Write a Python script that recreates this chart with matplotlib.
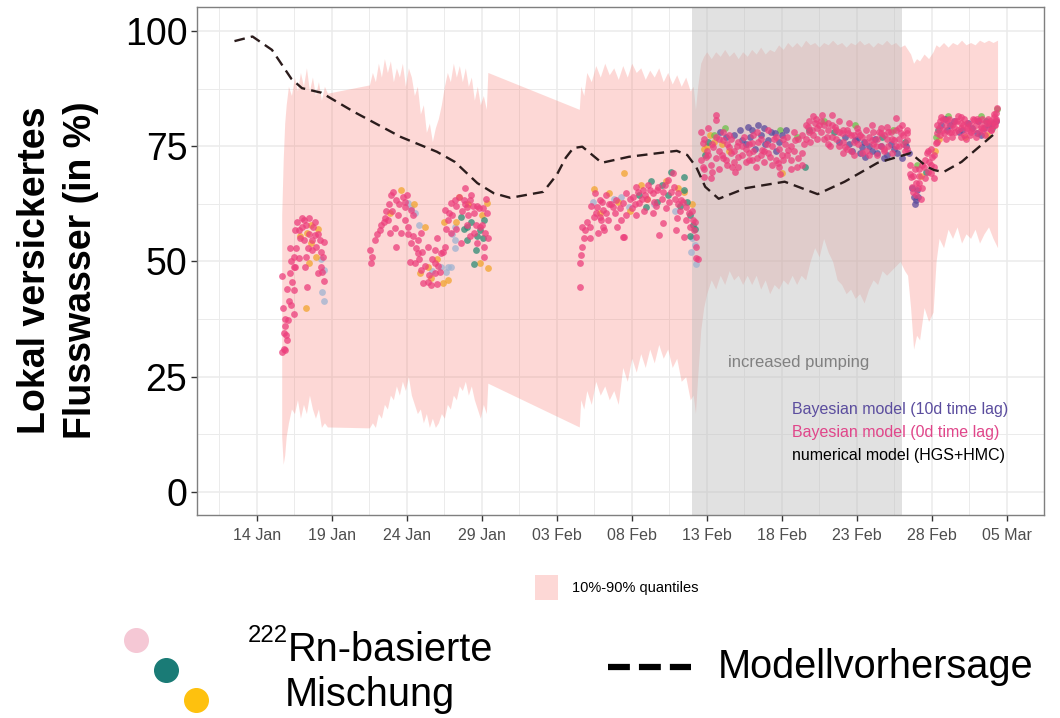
import matplotlib
matplotlib.use("Agg")
import matplotlib.pyplot as plt
from matplotlib import font_manager
from matplotlib.lines import Line2D
from matplotlib.patches import Rectangle

# x values are day-of-year 2023 (1 = 01 Jan)
tick_days = [14, 19, 24, 29, 34, 39, 44, 49, 54, 59, 64]
tick_labels = ["14 Jan", "19 Jan", "24 Jan", "29 Jan", "03 Feb", "08 Feb",
               "13 Feb", "18 Feb", "23 Feb", "28 Feb", "05 Mar"]
pumping_start, pumping_end = 43.05, 57.05

# 10%-90% quantile band (day, lower, upper)
band_day = [15.65, 15.75, 15.85, 15.95, 16.1, 16.3, 16.5, 16.7, 16.9, 17.1, 17.3, 17.5,
            17.7, 17.9, 18.1, 18.3, 18.5, 18.7,
            21.5, 21.7, 21.9, 22.1, 22.3, 22.5, 22.7, 22.9, 23.1, 23.3, 23.5, 23.7, 23.9,
            24.1, 24.3, 24.5, 24.7, 24.9, 25.1, 25.3, 25.5, 25.7, 25.9, 26.1, 26.3, 26.5,
            26.7, 26.9, 27.1, 27.3, 27.5, 27.7, 27.9, 28.1, 28.3, 28.5, 28.7, 28.9, 29.1,
            29.3, 29.4,
            35.5, 35.6, 35.8, 36.0, 36.3, 36.6, 36.9, 37.2, 37.5, 37.8, 38.1, 38.4, 38.7,
            39.0, 39.3, 39.6, 39.9, 40.2, 40.5, 40.8, 41.1, 41.4, 41.7, 42.0, 42.3, 42.6,
            42.9, 43.1, 43.25,
            43.4, 43.6, 43.8, 44.0, 44.3, 44.6, 44.9, 45.2, 45.5, 45.8, 46.1, 46.4, 46.7,
            47.0, 47.3, 47.6, 47.9, 48.2, 48.5, 48.8, 49.1, 49.4, 49.7, 50.0, 50.3, 50.6,
            50.9, 51.2, 51.5, 51.8, 52.1, 52.4, 52.7, 53.0, 53.3, 53.6, 53.9, 54.2, 54.5,
            54.8, 55.1, 55.4, 55.7, 56.0, 56.3, 56.6, 56.9, 57.2, 57.4,
            57.6, 57.8, 58.0, 58.2, 58.5, 58.8, 59.1, 59.3, 59.5, 59.8, 60.1, 60.4, 60.7,
            61.0, 61.3, 61.6, 61.9, 62.2, 62.5, 62.8, 63.1, 63.4]
band_low = [12, 6, 8, 12, 15, 18, 17, 20, 16, 19, 17, 21, 18, 16, 18, 14, 15, 14.1,
            13.9, 15, 14, 17, 16, 19, 18, 21, 20, 23, 21, 24, 22, 25, 21, 19, 17, 18, 15,
            17, 14, 16, 14, 15, 17, 16, 19, 18, 21, 20, 23, 22, 24, 21, 23, 20, 18, 16, 19,
            17, 23.6,
            14.1, 20, 18, 22, 19, 24, 21, 23, 20, 22, 19, 27, 24, 29, 26, 30, 27, 31, 28,
            32, 29, 31, 27, 29, 24, 25, 20, 21, 17,
            25, 35, 40, 43, 46, 44, 47, 45, 48, 46, 47, 45, 47, 45, 47, 44, 46, 43, 45, 44,
            46, 45, 47, 45, 47, 46, 50, 53, 51, 55, 52, 50, 46, 45, 43, 44, 42, 43, 41, 44,
            46, 45, 48, 47, 48, 49, 50, 48, 47,
            40, 31, 34, 33, 40, 37, 39, 50, 55, 53, 57, 55, 57.5, 54, 56, 55, 57, 54, 56,
            57.5, 55, 53]
band_high = [60, 72, 80, 84, 88, 86, 90, 87, 91, 88, 92, 87, 90, 86, 89, 85, 88, 86.5,
             88.3, 91, 89, 93, 90, 94, 91, 93.5, 89, 92, 90, 93, 88, 92, 90, 86, 88, 82,
             84, 78, 80, 76, 79, 81, 84, 88, 91, 89, 93, 90, 92.5, 89, 92, 88, 90, 85, 88,
             84, 86, 83, 91,
             83, 88, 86, 91, 89, 92.5, 90, 93, 90.5, 92, 89.5, 92.5, 90, 93, 91, 92, 89.5,
             91.5, 90, 92, 89, 91, 88.5, 90.5, 88, 90, 87, 88, 83,
             88, 93, 94.5, 95.5, 94, 95.5, 94.5, 96, 94.5, 95.5, 94, 95.5, 94.5, 96, 95,
             96.5, 95, 96, 95.5, 97, 96, 97.5, 96.5, 97.5, 96.5, 98, 97, 97.5, 96.5, 97.5,
             97, 98, 97, 97.5, 96.5, 97.5, 97, 98, 97, 97.5, 96.5, 97.5, 97, 98, 97, 97.5,
             96.5, 97, 96,
             95, 93, 94, 93.5, 95, 94, 95.5, 97, 96.5, 97.5, 96.5, 97.5, 97, 98, 97, 97.5,
             97, 98, 97.5, 98, 97.5, 98]

# numerical model (HGS+HMC)
model_day = [12.5, 13.7, 15.0, 16.3, 17.0, 18.3, 20.5, 23.6, 26.0, 27.2, 28.7, 29.8,
             30.9, 33.1, 34.0, 34.6, 35.1, 35.7, 37.0, 38.8, 42.0, 42.7, 43.3, 43.9,
             44.8, 46.6, 49.2, 51.4, 53.2, 55.4, 57.6, 58.7, 59.2, 59.8, 61.0, 63.3]
model_val = [97.8, 98.8, 95.9, 89.6, 87.6, 86.6, 82.4, 77.0, 73.8, 71.6, 67.0, 64.8,
             63.8, 65.1, 68.8, 72.5, 74.6, 74.9, 71.4, 72.7, 74.0, 73.1, 70.5, 66.2,
             63.6, 65.9, 67.3, 64.6, 67.3, 71.4, 73.5, 70.5, 69.8, 69.4, 71.6, 78.0]

# Rn-222 based mixing estimates (day, %)
bayes_0d = [
    # mid January
    (15.66, 30.4), (15.79, 31.0), (15.9, 30.8), (15.92, 34.0), (15.99, 33.0), (15.79, 34.5),
    (15.85, 36.0), (15.9, 37.5), (16.05, 37.3), (15.72, 39.9), (16.12, 41.5), (16.25, 40.6),
    (16.45, 38.6), (16.45, 43.8), (16.32, 45.6), (15.68, 46.9), (16.19, 47.5), (16.45, 48.8),
    (17.23, 48.8), (17.31, 44.5), (18.04, 47.5), (18.35, 47.7), (18.48, 45.8), (16.98, 59.4),
    (16.78, 56.8), (16.52, 56.8), (16.23, 52.9), (16.45, 51.0), (16.78, 50.8), (16.56, 48.8),
    (17.11, 59.0), (17.44, 59.4), (17.77, 57.5), (17.11, 54.7), (17.64, 54.7), (17.89, 55.7),
    (18.22, 54.7), (18.44, 54.2), (17.97, 53.1), (17.25, 51.0), (18.3, 52.0), (18.3, 48.8),
    (16.0, 44.0), (16.3, 50.0), (16.6, 53.0), (16.9, 55.0), (17.0, 57.5), (17.3, 58.0),
    (17.5, 56.0), (17.7, 52.5), (17.9, 58.5), (18.1, 56.0), (18.4, 51.0), (16.7, 58.5),
    (17.4, 53.0),
    # late January
    (21.62, 49.7), (21.55, 52.5), (21.88, 54.7), (22.21, 56.8), (22.54, 59.4), (22.74, 59.0),
    (22.87, 56.2), (23.21, 57.3), (22.94, 64.4), (23.27, 63.3), (23.74, 64.0), (23.87, 61.8),
    (24.26, 61.2), (23.87, 59.0), (24.07, 57.5), (23.6, 56.2), (23.27, 53.1), (24.26, 54.0),
    (24.73, 54.7), (24.93, 56.2), (24.73, 51.8), (25.39, 53.1), (25.85, 52.5), (26.25, 51.8),
    (24.53, 49.7), (24.93, 48.2), (25.85, 49.7), (26.52, 53.1), (26.91, 56.2), (26.72, 59.0),
    (26.52, 61.2), (26.91, 62.7), (27.18, 63.3), (27.84, 63.3), (28.04, 61.8), (28.24, 63.3),
    (28.5, 60.5), (28.5, 56.2), (29.23, 56.2), (28.7, 54.0), (27.58, 54.0), (29.17, 53.1),
    (29.36, 60.5), (28.83, 61.6), (29.17, 51.0), (25.06, 45.3), (25.39, 45.6), (25.59, 44.9),
    (25.99, 45.1), (25.85, 47.5), (26.19, 47.7), (24.2, 49.9), (22.5, 58.5), (23.0, 61.0),
    (23.5, 62.5), (24.0, 64.5), (24.4, 60.0), (27.5, 64.0), (27.9, 66.0), (28.3, 64.5),
    (28.7, 62.0), (29.0, 58.0), (29.3, 63.5), (27.0, 60.0), (26.0, 55.0), (25.0, 52.0),
    (28.0, 58.0), (21.7, 51.0), (22.0, 56.0), (22.3, 58.0), (22.6, 61.0), (22.8, 62.5),
    (23.1, 65.0), (23.4, 60.0), (23.9, 63.0), (24.1, 56.0), (24.4, 55.5), (24.6, 53.0),
    (24.8, 50.5), (25.2, 49.0), (25.5, 47.0), (25.7, 50.5), (26.1, 49.0), (26.4, 52.0),
    (26.6, 57.0), (26.8, 60.5), (27.3, 62.0), (27.7, 61.0), (27.9, 62.5), (28.1, 60.0),
    (28.4, 62.0), (28.6, 58.0), (28.9, 57.5), (29.1, 61.5), (29.4, 55.0), (27.3, 57.0),
    (28.2, 55.5),
    # early February
    (35.52, 44.5), (35.52, 49.7), (35.6, 51.4), (35.66, 53.1), (35.79, 55.1), (35.85, 56.8),
    (36.19, 57.5), (36.45, 59.7), (36.52, 64.9), (36.85, 63.3), (37.11, 61.2), (36.98, 59.0),
    (36.65, 61.8), (36.85, 59.7), (37.31, 60.5), (37.11, 57.5), (36.78, 56.2), (37.18, 56.8),
    (37.77, 61.8), (37.97, 63.3), (38.44, 62.7), (38.64, 64.9), (38.3, 59.0), (38.44, 55.3),
    (39.1, 64.0), (39.3, 66.2), (39.76, 65.5), (40.09, 66.6), (40.42, 64.9), (40.75, 66.2),
    (41.09, 65.1), (41.42, 67.7), (41.81, 66.2), (42.08, 64.9), (42.28, 63.3), (42.61, 61.8),
    (42.81, 60.5), (43.07, 59.0), (43.14, 56.8), (43.27, 55.3), (43.27, 53.1), (43.27, 50.8),
    (42.48, 55.3), (41.95, 56.8), (41.09, 58.4), (40.82, 55.7), (40.42, 60.5), (39.5, 62.7),
    (41.75, 69.2), (38.5, 55.3), (43.4, 50.5), (37.5, 62.5), (39.0, 61.5), (40.0, 63.5),
    (41.5, 63.0), (42.2, 61.0), (35.7, 57.5), (36.0, 58.5), (36.3, 62.0), (36.6, 60.5),
    (37.0, 63.0), (37.4, 59.0), (37.6, 62.5), (37.9, 60.5), (38.2, 61.5), (38.6, 60.0),
    (38.9, 63.5), (39.2, 62.5), (39.4, 65.0), (39.7, 63.5), (39.9, 64.5), (40.2, 65.5),
    (40.5, 63.0), (40.7, 65.5), (41.0, 63.5), (41.2, 66.5), (41.6, 65.0), (41.9, 63.5),
    (42.1, 62.5), (42.4, 63.0), (42.6, 59.0), (42.9, 57.5), (43.0, 61.0), (43.2, 58.5),
    (36.2, 55.0), (37.3, 64.5), (38.0, 57.5), (39.3, 60.0), (41.3, 61.5), (42.0, 59.5),
    (39.8, 61.0), (40.6, 62.0),
    # increased pumping
    (43.73, 75.7), (43.93, 72.7), (43.73, 70.5), (43.8, 68.3), (44.26, 68.1), (44.6, 81.8),
    (44.6, 80.7), (44.4, 74.8), (45.06, 76.4), (45.46, 74.8), (45.26, 72.0), (45.72, 70.5),
    (46.12, 72.7), (47.05, 75.7), (47.71, 74.2), (48.24, 72.7), (48.77, 71.4), (49.43, 74.2),
    (49.89, 76.4), (50.36, 73.5), (50.75, 79.2), (51.22, 80.0), (51.68, 81.8), (52.08, 80.0),
    (52.34, 81.8), (52.54, 79.2), (53.01, 77.9), (53.2, 74.8), (53.4, 77.9), (55.0, 76.4),
    (55.66, 77.9), (56.05, 79.2), (56.52, 76.4), (56.65, 81.2), (56.98, 77.9), (57.38, 76.4),
    (57.38, 77.9), (44.0, 74.0), (44.8, 76.5), (45.5, 77.5), (46.0, 75.0), (46.5, 77.0),
    (47.0, 72.0), (47.4, 76.0), (48.0, 75.5), (48.5, 76.5), (49.0, 73.0), (49.6, 72.0),
    (50.0, 70.5), (50.5, 75.5), (51.0, 78.5), (51.5, 79.5), (52.0, 77.0), (52.8, 80.5),
    (53.5, 80.0), (53.8, 76.0), (54.2, 77.5), (54.6, 74.0), (55.3, 75.0), (55.8, 74.5),
    (56.3, 78.0), (56.8, 75.0), (57.2, 74.0), (44.3, 71.0), (45.9, 69.5), (47.3, 70.5),
    (48.9, 69.0), (49.2, 75.5), (50.9, 76.0), (52.2, 75.0), (53.1, 78.5), (54.0, 79.0),
    (55.5, 78.0), (57.0, 79.5), (46.8, 73.5), (45.0, 73.0), (51.3, 81.0), (55.0, 79.5),
    (56.0, 76.5),
    (43.6, 72.0), (43.6, 78.0), (43.85, 70.0), (43.85, 76.5), (44.1, 73.0), (44.1, 79.0),
    (44.35, 75.5), (44.35, 69.5), (44.6, 77.0), (44.6, 72.5), (44.85, 74.0), (44.85, 70.0),
    (45.1, 78.0), (45.1, 72.5), (45.35, 75.5), (45.35, 71.0), (45.6, 73.5), (45.6, 76.5),
    (45.85, 74.0), (45.85, 71.5), (46.1, 76.0), (46.1, 70.5), (46.35, 73.0), (46.35, 75.0),
    (46.6, 71.5), (46.6, 74.5), (46.85, 75.5), (46.85, 72.0), (47.1, 74.0), (47.1, 77.5),
    (47.35, 72.5), (47.35, 78.0), (47.6, 73.0), (47.6, 76.5), (47.85, 71.5), (47.85, 74.0),
    (48.1, 73.5), (48.1, 78.5), (48.35, 75.0), (48.35, 71.0), (48.6, 72.0), (48.6, 77.0),
    (48.85, 74.5), (48.85, 70.5), (49.1, 76.5), (49.1, 72.0), (49.35, 73.0), (49.35, 77.0),
    (49.6, 75.0), (49.6, 70.0), (49.85, 74.0), (49.85, 78.0), (50.1, 72.5), (50.1, 76.5),
    (50.35, 71.0), (50.35, 77.5), (50.6, 79.5), (50.6, 76.5), (50.85, 80.5), (50.85, 78.0),
    (51.1, 77.5), (51.1, 81.5), (51.35, 79.0), (51.35, 76.5), (51.6, 78.0), (51.6, 80.5),
    (51.85, 76.5), (51.85, 79.5), (52.1, 78.5), (52.1, 75.5), (52.35, 77.0), (52.35, 79.5),
    (52.6, 76.5), (52.6, 78.5), (52.85, 75.0), (52.85, 78.0), (53.1, 76.0), (53.1, 73.5),
    (53.35, 74.5), (53.35, 78.5), (53.6, 77.5), (53.6, 74.0), (53.85, 73.0), (53.85, 77.5),
    (54.1, 75.5), (54.1, 78.0), (54.35, 77.0), (54.35, 73.5), (54.6, 76.0), (54.6, 78.5),
    (54.85, 73.0), (54.85, 77.0), (55.1, 75.5), (55.1, 78.0), (55.35, 76.5), (55.35, 73.0),
    (55.6, 75.0), (55.6, 79.0), (55.85, 77.5), (55.85, 74.0), (56.1, 75.0), (56.1, 78.0),
    (56.35, 76.5), (56.35, 73.5), (56.6, 78.5), (56.6, 75.0), (56.85, 76.5), (56.85, 79.0),
    (57.1, 75.5), (57.1, 77.5), (57.35, 74.5), (57.35, 78.5),
    # end of February / March
    (57.64, 68.3), (57.71, 66.2), (58.17, 67.0), (58.5, 70.5), (58.7, 73.5), (59.03, 72.7),
    (59.17, 70.5), (58.97, 69.2), (59.3, 75.7), (59.36, 77.9), (59.63, 81.4), (60.03, 80.7),
    (60.49, 79.2), (60.95, 81.4), (61.35, 78.5), (61.81, 80.7), (62.28, 79.2), (62.68, 80.0),
    (62.94, 78.5), (63.14, 81.4), (63.34, 83.3), (63.27, 82.2), (59.83, 77.9), (60.95, 77.0),
    (57.9, 70.0), (58.3, 63.5), (58.1, 66.0), (59.5, 79.0), (60.3, 78.0), (60.7, 80.5),
    (61.1, 79.5), (61.6, 78.0), (62.0, 81.0), (62.4, 78.5), (62.9, 80.5), (63.2, 79.5),
    (58.8, 71.5), (61.3, 76.5),
    (57.55, 71.0), (57.55, 69.0), (57.75, 65.0), (57.75, 68.5), (57.95, 67.0), (57.95, 64.5),
    (58.15, 70.0), (58.15, 68.5), (58.35, 66.0), (58.35, 71.0), (58.55, 72.0), (58.55, 68.0),
    (58.75, 69.5), (58.75, 74.0), (58.95, 71.0), (58.95, 74.5), (59.15, 73.0), (59.15, 68.0),
    (59.35, 79.5), (59.35, 76.0), (59.55, 80.5), (59.55, 77.5), (59.75, 78.5), (59.75, 81.0),
    (59.95, 79.5), (59.95, 76.5), (60.15, 81.0), (60.15, 78.0), (60.35, 79.5), (60.35, 77.0),
    (60.55, 80.5), (60.55, 78.0), (60.75, 78.5), (60.75, 81.5), (60.95, 79.0), (60.95, 80.0),
    (61.15, 81.0), (61.15, 77.5), (61.35, 80.0), (61.35, 79.0), (61.55, 79.5), (61.55, 77.5),
    (61.75, 78.5), (61.75, 81.0), (61.95, 79.5), (61.95, 77.0), (62.15, 80.5), (62.15, 78.0),
    (62.35, 79.0), (62.35, 81.0), (62.55, 77.5), (62.55, 80.0), (62.75, 79.0), (62.75, 81.0),
    (62.95, 80.0), (62.95, 78.5), (63.15, 82.0), (63.15, 79.5), (63.3, 81.0), (63.3, 80.5),
]
bayes_10d = [
    (46.38, 76.4), (46.78, 79.2), (47.44, 79.6), (48.11, 76.4), (48.57, 77.9), (53.86, 76.4),
    (54.33, 74.8), (54.53, 72.7), (55.39, 73.5), (57.51, 73.5), (47.9, 75.5), (48.6, 74.0),
    (46.9, 77.0), (54.8, 75.0), (55.8, 72.5), (56.5, 74.5), (57.0, 72.5), (53.5, 75.5),
    (49.0, 77.5), (47.2, 74.5), (57.84, 64.0), (57.97, 63.3), (62.0, 77.9), (58.0, 65.5),
    (60.2, 79.5), (61.0, 78.5), (62.5, 79.0), (63.3, 80.5), (59.9, 81.0),
    (45.8, 77.5), (46.2, 78.5), (46.6, 75.5), (47.0, 78.5), (47.6, 77.5), (47.8, 79.0),
    (48.3, 78.0), (48.8, 76.0), (49.3, 78.5), (44.9, 78.0), (45.3, 77.0), (52.8, 76.0),
    (53.2, 77.0), (53.7, 74.0), (54.0, 76.5), (54.2, 73.5), (54.5, 76.0), (55.0, 74.0),
    (55.2, 76.5), (55.6, 75.0), (56.0, 73.0), (56.3, 75.5), (56.7, 73.5), (57.3, 75.0),
    (57.7, 66.0), (57.9, 62.5), (58.1, 64.0), (59.6, 79.5), (60.0, 78.5), (60.5, 80.5),
    (60.8, 78.0), (61.4, 80.0), (61.7, 79.0), (62.1, 80.5), (62.3, 77.5), (62.8, 79.5),
    (63.1, 80.0),
]
mix_orange = [
    (17.29, 39.9), (17.31, 56.2), (17.97, 51.0), (17.44, 49.7), (18.1, 57.0), (17.58, 58.0),
    (23.6, 65.5), (25.19, 57.5), (25.39, 48.8), (27.51, 64.0), (29.36, 62.7), (28.9, 49.7),
    (26.38, 45.3), (26.72, 46.0), (24.5, 62.5), (26.0, 50.5), (29.4, 48.5),
    (37.51, 64.9), (38.5, 69.2), (40.0, 63.5), (42.5, 65.0), (36.5, 65.8), (38.9, 61.0),
    (49.03, 69.2), (44.0, 75.0), (44.5, 76.0), (45.5, 74.0),
    (59.5, 76.5), (61.2, 77.0), (62.7, 77.5),
    (16.9, 55.5), (17.6, 54.0), (22.9, 60.5), (24.9, 47.5), (25.6, 46.5), (26.5, 58.5),
    (27.3, 58.5), (28.1, 62.5), (29.0, 60.0), (36.9, 60.5), (38.1, 63.0), (39.6, 66.5),
    (41.3, 67.5), (42.1, 66.0), (43.0, 62.5), (43.8, 74.5), (44.2, 77.5), (45.0, 75.5),
    (58.3, 68.5), (59.2, 74.0),
]
mix_greyblue = [
    (18.37, 43.4), (18.48, 41.4), (18.44, 48.2), (18.24, 50.5),
    (24.07, 62.7), (24.53, 60.5), (26.25, 48.8), (26.72, 48.8), (26.59, 47.7), (26.91, 48.8),
    (27.18, 57.5), (27.18, 54.7), (24.3, 61.5), (27.0, 56.0),
    (38.83, 61.8), (42.94, 52.0), (37.8, 63.5), (41.9, 61.0), (43.0, 55.0),
    (24.8, 58.0), (25.7, 48.0), (27.2, 53.0), (36.4, 63.0), (38.3, 64.0), (40.5, 62.5),
    (43.2, 53.5), (43.3, 49.5),
]
mix_teal = [
    (27.58, 59.7), (28.04, 57.5), (28.9, 56.8), (29.17, 59.0), (28.04, 54.7), (28.5, 49.5),
    (28.3, 58.5), (28.7, 55.5),
    (41.62, 69.4), (42.48, 65.5), (39.96, 61.8), (42.48, 68.3), (42.9, 60.0), (43.1, 58.0),
    (41.0, 66.5), (40.3, 67.5), (42.7, 63.0),
    (50.56, 70.5), (43.9, 73.0), (52.5, 78.0), (57.2, 76.0), (58.6, 69.5), (63.0, 79.0),
    (27.8, 57.0), (28.6, 52.5), (29.1, 55.0), (39.5, 64.5), (40.7, 63.0), (41.4, 64.5),
    (42.2, 62.0), (42.9, 55.5), (43.2, 57.0), (44.1, 76.0), (50.8, 78.5), (55.7, 77.0),
    (59.4, 78.5), (62.6, 80.5),
]
mix_green = [(44.5, 77.5), (50.0, 77.0), (51.8, 80.5), (56.4, 78.5), (59.3, 77.0), (63.35, 83.0),
             (45.2, 79.0), (48.9, 78.5), (53.9, 79.5), (60.1, 81.5), (62.3, 81.5), (58.0, 71.0)]


def have_font(name):
    try:
        font_manager.findfont(name, fallback_to_default=False)
        return True
    except ValueError:
        return False


plt.rcParams['font.family'] = ['Liberation Sans', 'DejaVu Sans']
narrow = have_font('Liberation Sans Narrow')
big_font = 'Liberation Sans Narrow' if narrow else 'Liberation Sans'
big_size = 34 if narrow else 28.6

fig = plt.figure(figsize=(10.6, 7.18), dpi=100)
ax = fig.add_axes([197 / 1060, 1 - 515 / 718, (1044 - 197) / 1060, (515 - 7) / 718])

ax.set_xlim(10, 66.05)
ax.set_ylim(-5, 105.2)
ax.set_xticks(tick_days, tick_labels)
ax.set_xticks([d + 2.5 for d in [9] + tick_days], minor=True)
ax.set_yticks([0, 25, 50, 75, 100])
ax.set_yticks([12.5, 37.5, 62.5, 87.5], minor=True)
ax.grid(which='major', color='#EBEBEB', lw=1.1, zorder=0)
ax.grid(which='minor', color='#EBEBEB', lw=0.7, zorder=0)
ax.set_axisbelow(True)
for sp in ax.spines.values():
    sp.set_color('#7F7F7F')
    sp.set_linewidth(1.0)
ax.tick_params(axis='x', which='major', labelsize=11.5, labelcolor='#4D4D4D', color='#333333',
               length=4, width=1, pad=5)
ax.tick_params(axis='y', which='major', labelsize=27, labelcolor='black', color='#333333',
               length=4, width=1, pad=3)
ax.tick_params(which='minor', length=0)

# quantile band
ax.fill_between(band_day, band_low, band_high, color='#F8766D', alpha=0.28, lw=0, zorder=1)

# increased pumping period
ax.axvspan(pumping_start, pumping_end, color='#BEBEBE', alpha=0.45, lw=0, zorder=2)
ax.text(50.1, 28, "increased pumping", color='#808080', fontsize=12, ha='center', va='center')

# scatter of estimates
series = [
    (mix_greyblue, '#9FB3D1'),
    (mix_orange, '#F2A42E'),
    (mix_teal, '#2E8B74'),
    (mix_green, '#6CC04A'),
    (bayes_10d, '#5B4A9C'),
    (bayes_0d, '#EC3F7C'),
]
for pts, col in series:
    xs, ys = zip(*pts)
    ax.scatter(xs, ys, s=24, color=col, alpha=0.75, lw=0, zorder=3)

# model prediction
ax.plot(model_day, model_val, color='#2B1C1C', lw=1.7, dashes=(4.5, 2.6), zorder=4)

ax.text(49.7, 17.8, "Bayesian model (10d time lag)", color='#5B4D9E', fontsize=11.5, va='center')
ax.text(49.7, 12.8, "Bayesian model (0d time lag)", color='#E0468A', fontsize=11.5, va='center')
ax.text(49.7, 7.8, "numerical model (HGS+HMC)", color='black', fontsize=11.5, va='center')

# y label
fig.text(58 / 1060, 1 - 270 / 718, "Lokal versickertes\nFlusswasser (in %)", rotation=90,
         fontsize=27, fontweight='bold', ha='center', va='center', multialignment='center',
         linespacing=1.35)

# quantile legend
fig.add_artist(Rectangle((535 / 1060, 1 - 600 / 718), 23 / 1060, 25 / 718,
                         transform=fig.transFigure, color='#F8766D', alpha=0.28, lw=0))
fig.text(572 / 1060, 1 - 588 / 718, "10%-90% quantiles", fontsize=10.5, va='center')

# lower legend: Rn-based mixing
for (px, py), col in zip([(136, 640), (166, 670), (196, 700)], ['#F5C8D5', '#1A7B76', '#FEC10E']):
    fig.add_artist(Line2D([px / 1060], [1 - py / 718], marker='o', markersize=17, color=col,
                          transform=fig.transFigure, lw=0))
fig.text(288 / 1060, 1 - 636 / 718, "222", family=[big_font, 'DejaVu Sans'],
         fontsize=big_size * 0.6, ha='right', va='center')
fig.text(288 / 1060, 1 - 650 / 718, "Rn-basierte", family=[big_font, 'DejaVu Sans'],
         fontsize=big_size, ha='left', va='center')
fig.text(370 / 1060, 1 - 695 / 718, "Mischung", family=[big_font, 'DejaVu Sans'],
         fontsize=big_size, ha='center', va='center')

# lower legend: model
fig.add_artist(Line2D([608 / 1060, 691 / 1060], [1 - 667 / 718, 1 - 667 / 718], color='black',
                      lw=4.5, dashes=(3.5, 1.45), solid_capstyle='butt', dash_capstyle='butt',
                      transform=fig.transFigure))
fig.text(718 / 1060, 1 - 667 / 718, "Modellvorhersage", family=[big_font, 'DejaVu Sans'],
         fontsize=big_size, ha='left', va='center')

fig.savefig("out.png", dpi=100)
